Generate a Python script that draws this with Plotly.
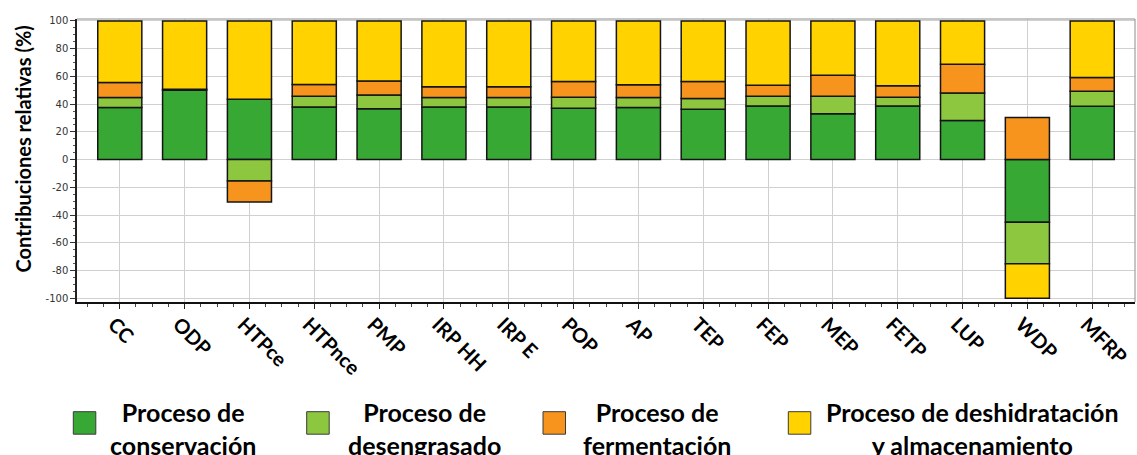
import plotly.graph_objects as go

# Impact categories (x axis)
categories = ["CC", "ODP", "HTPce", "HTPnce", "PMP", "IRP HH", "IRP E", "POP",
              "AP", "TEP", "FEP", "MEP", "FETP", "LUP", "WDP", "MFRP"]

# Relative contribution of each process stage (%)
conservacion = [37.5, 50.0, 43.6, 38.0, 36.6, 38.0, 38.0, 37.1,
                37.5, 36.3, 38.7, 33.0, 38.7, 28.2, -45.2, 38.5]
desengrasado = [7.3, 0.0, -15.4, 7.7, 9.9, 6.8, 6.8, 7.9,
                7.3, 7.7, 7.0, 12.7, 6.3, 19.9, -29.9, 10.8]
fermentacion = [10.8, 0.8, -15.2, 8.5, 10.1, 7.7, 7.7, 11.3,
                9.1, 12.3, 8.0, 15.2, 8.2, 20.7, 30.3, 9.9]
deshidratacion = [44.4, 49.2, 56.4, 45.8, 43.4, 47.5, 47.5, 43.7,
                  46.1, 43.7, 46.3, 39.1, 46.8, 31.2, -24.9, 40.8]

series_names = ["Proceso de<br>conservación", "Proceso de<br>desengrasado",
                "Proceso de<br>fermentación", "Proceso de deshidratación<br>y almacenamiento"]
series_colors = ["#37a834", "#8dc63f", "#f7941e", "#ffd200"]

y_tick_values = [100, 80, 60, 40, 20, 0, -20, -40, -60, -80, -100]
y_tick_labels = ["100", "80", "60", "40", "20", "0", "-20", "-40", "-60", "-80", "-100"]
y_title = "Contribuciones relativas (%)"

# Figure geometry (pixels)
FIG_W, FIG_H = 1137, 455
L, T, R, B = 77, 19, 2, 153
W, H = FIG_W - L - R, FIG_H - T - B


def xp(px):
    return (px - L) / W


def yp(py):
    return (T + H - py) / H


fig = go.Figure()
x_pos = list(range(len(categories)))
for name, vals, col in zip(series_names, [conservacion, desengrasado, fermentacion, deshidratacion],
                           series_colors):
    fig.add_trace(go.Bar(
        x=x_pos, y=vals, name=name.replace("<br>", " "), width=0.68,
        marker=dict(color=col, line=dict(color="#151515", width=1.5)),
        showlegend=False,
    ))

# Legend drawn as swatches + centred two-line captions
legend_sq_left = [73.3, 306.7, 543.0, 788.3]
legend_txt_cx = [183.0, 424.5, 656.5, 972.5]
sq = 22.5
sq_top = 411.7
shapes = []
annotations = []
for name, col, sx, tx in zip(series_names, series_colors, legend_sq_left, legend_txt_cx):
    shapes.append(dict(type="rect", xref="paper", yref="paper",
                       x0=xp(sx), x1=xp(sx + sq), y0=yp(sq_top + sq), y1=yp(sq_top),
                       fillcolor=col, line=dict(color="#3a3a3a", width=1)))
    annotations.append(dict(xref="paper", yref="paper", x=xp(tx), y=yp(428),
                            xanchor="center", yanchor="middle", showarrow=False,
                            text=name, align="center",
                            font=dict(family="Lato", size=25, color="#000000", weight="bold")))

# Light frame on top and right of the plotting area
shapes.append(dict(type="line", xref="paper", yref="paper", x0=0, x1=1, y0=1, y1=1,
                   line=dict(color="#8c8c8c", width=1)))
shapes.append(dict(type="line", xref="paper", yref="paper", x0=1, x1=1, y0=0, y1=1,
                   line=dict(color="#8c8c8c", width=1)))

annotations.append(dict(xref="paper", yref="paper", x=xp(22.5), y=yp(149),
                        xanchor="center", yanchor="middle", showarrow=False,
                        text=y_title, textangle=-90,
                        font=dict(family="Lato", size=20, color="#000000", weight="bold")))

fig.update_layout(
    width=FIG_W, height=FIG_H,
    margin=dict(l=L, r=R, t=T, b=B, pad=0),
    barmode="relative",
    plot_bgcolor="#ffffff", paper_bgcolor="#ffffff",
    shapes=shapes, annotations=annotations,
    xaxis=dict(
        range=[-0.66, 15.66], tickmode="array", tickvals=x_pos, ticktext=categories,
        tickangle=45, tickfont=dict(family="Lato", size=20, color="#000000", weight="bold"),
        ticklabelshift=-6, ticklabelstandoff=-4, ticklabeloverflow="allow",
        showgrid=True, gridcolor="#d0d0d0", gridwidth=1, zeroline=False,
        showline=True, linecolor="#111111", linewidth=2,
        ticks="outside", ticklen=5, tickcolor="#222222",
        minor=dict(dtick=0.25, tick0=0, ticks="outside", ticklen=3, tickcolor="#444444", showgrid=False),
    ),
    yaxis=dict(
        range=[-102.7, 101.4], tickmode="array", tickvals=y_tick_values, ticktext=y_tick_labels,
        tickfont=dict(family="DejaVu Sans", size=10, color="#333333"),
        showgrid=True, gridcolor="#d0d0d0", gridwidth=1, zeroline=False,
        showline=True, linecolor="#222222", linewidth=1.5,
        ticks="outside", ticklen=5, tickcolor="#333333",
        minor=dict(dtick=5, tick0=0, ticks="outside", ticklen=2.5, tickcolor="#555555", showgrid=False),
    ),
)

fig.write_html("out.html")
